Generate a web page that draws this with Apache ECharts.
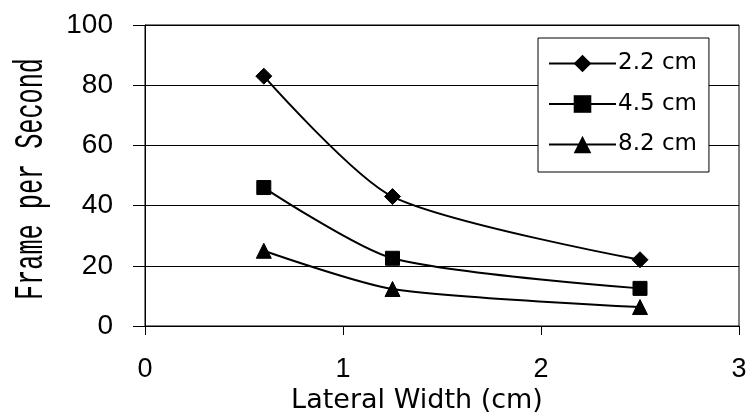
<!DOCTYPE html>
<html>
<head>
<meta charset="utf-8">
<script src="https://cdn.jsdelivr.net/npm/echarts@6/dist/echarts.min.js"></script>
<style>
  html, body { margin: 0; padding: 0; background: #fff; }
  #chart { width: 749px; height: 414px; }
</style>
</head>
<body>
<div id="chart"></div>
<script>
// Lateral width (cm) at which frame rate was measured
const lateralWidth = [0.6, 1.25, 2.5];

// Frame rate (frames per second) for each depth
const seriesNames = ['2.2 cm', '4.5 cm', '8.2 cm'];
const fps22 = [83, 43, 22];
const fps45 = [46, 22.5, 12.5];
const fps82 = [25, 12.3, 6.3];

// Axis ticks
const xTicks = [0, 1, 2, 3];
const yTicks = [0, 20, 40, 60, 80, 100];

const markerShapes = ['diamond', 'rect', 'triangle'];
const markerSizes = [16, 14, 15];
const seriesValues = [fps22, fps45, fps82];

const chart = echarts.init(document.getElementById('chart'), null, { renderer: 'canvas' });

const series = seriesNames.map((name, i) => ({
  name: name,
  type: 'line',
  smooth: 0.25,
  symbol: markerShapes[i],
  symbolSize: markerSizes[i],
  showAllSymbol: true,
  data: lateralWidth.map((x, k) => [x, seriesValues[i][k]]),
  lineStyle: { color: '#000', width: 2 },
  itemStyle: { color: '#000', borderColor: '#000' },
  emphasis: { disabled: true },
  z: 3 - i
}));

const option = {
  animation: false,
  backgroundColor: '#fff',
  grid: {
    left: 145, right: 10, top: 25, bottom: 88,
    containLabel: false,
    outerBoundsMode: 'none',
    show: true, borderColor: '#000', borderWidth: 1, backgroundColor: 'transparent'
  },
  xAxis: {
    type: 'value',
    min: xTicks[0], max: xTicks[xTicks.length - 1], interval: 1,
    axisLine: { show: true, onZero: false, lineStyle: { color: '#000', width: 1 } },
    axisTick: { show: true, length: 9, lineStyle: { color: '#000' } },
    splitLine: { show: false },
    axisLabel: {
      margin: 30, color: '#000', fontSize: 27, fontFamily: 'Liberation Sans'
    },
    name: 'Lateral Width (cm)',
    nameLocation: 'middle',
    nameGap: 46,
    nameTextStyle: {
      color: '#000', fontSize: 27, fontFamily: 'DejaVu Sans',
      padding: [0, 50, 0, 0]
    }
  },
  yAxis: {
    type: 'value',
    min: yTicks[0], max: yTicks[yTicks.length - 1], interval: 20,
    axisLine: { show: true, lineStyle: { color: '#000', width: 1 } },
    axisTick: { show: true, length: 12, lineStyle: { color: '#000' } },
    splitLine: { show: true, lineStyle: { color: '#000', width: 1 } },
    axisLabel: {
      margin: 32, color: '#000', fontSize: 28, fontFamily: 'Liberation Sans'
    }
  },
  legend: {
    show: true,
    orient: 'vertical',
    left: 538, top: 38,
    data: seriesNames,
    backgroundColor: '#fff',
    borderColor: '#000', borderWidth: 1,
    padding: [14, 12, 16, 10],
    itemWidth: 67, itemHeight: 22, itemGap: 17.5,
    textStyle: { color: '#000', fontSize: 23, fontFamily: 'DejaVu Sans', lineHeight: 22, padding: [0, 0, 0, -3] },
    selectedMode: false
  },
  graphic: [{
    type: 'text',
    x: 31, y: 179,
    rotation: Math.PI / 2,
    scaleX: 0.63,
    style: {
      text: 'Frame per Second',
      font: '40px "Liberation Mono"',
      fill: '#000',
      align: 'center',
      verticalAlign: 'middle'
    }
  }],
  series: series
};

chart.setOption(option);
</script>
</body>
</html>
